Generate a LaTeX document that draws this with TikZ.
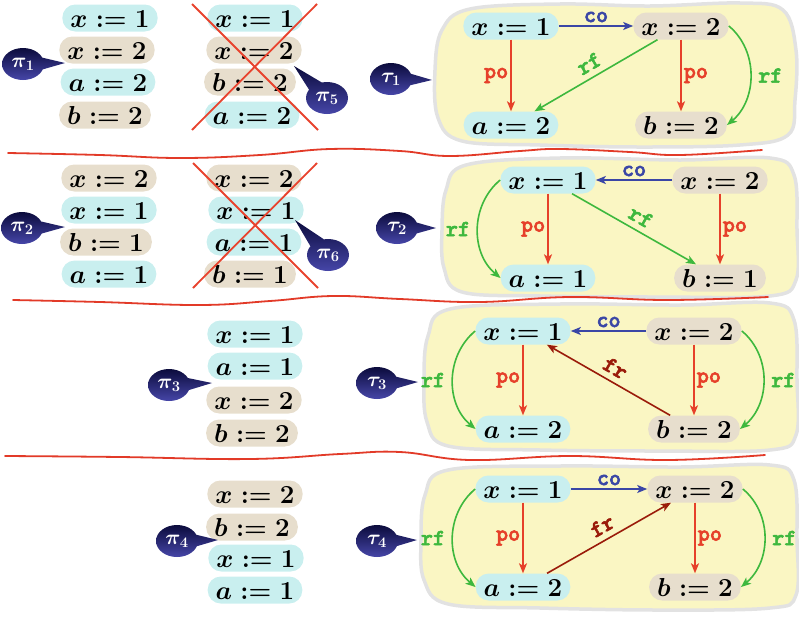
\RequirePackage{fix-cm}
\documentclass[tikz,border=0pt]{standalone}
\usetikzlibrary{arrows.meta,calc}
\font\labfnt="[lmmonolt10-bold]:embolden=2.5" at 23pt
\definecolor{cyanpill}{HTML}{C9EFEF}
\definecolor{tanpill}{HTML}{E7DECD}
\definecolor{blobfill}{HTML}{FAF6C3}
\definecolor{blobline}{HTML}{E2E2E2}
\definecolor{sepred}{HTML}{E23A28}
\definecolor{crossred}{HTML}{E8432E}
\definecolor{coblue}{HTML}{3A46A6}
\definecolor{pored}{HTML}{E6402A}
\definecolor{rfgreen}{HTML}{3EB83E}
\definecolor{frred}{HTML}{9A1B0A}
\definecolor{bubtop}{HTML}{0B0B3C}
\definecolor{bubbot}{HTML}{4646A8}
\tikzset{
  pill/.style={rounded corners=13pt, minimum height=27pt, inner xsep=8pt, inner ysep=0pt,
    text height=18pt, text depth=0pt, font=\fontsize{26}{30}\selectfont\boldmath},
  cy/.style={pill, fill=cyanpill},
  tn/.style={pill, fill=tanpill},
  lab/.style={font=\labfnt, inner sep=2pt},
  arr/.style={line width=1.6pt, -{Stealth[length=10pt,width=8pt,inset=2.5pt]}},
  blob/.style={fill=blobfill, draw=blobline, line width=3.5pt},
  sepline/.style={draw=sepred, line width=1.8pt, line cap=round},
  crossline/.style={draw=crossred, line width=1.8pt},
  bubtext/.style={text=white, font=\fontsize{21}{24}\selectfont\boldmath, inner sep=0pt},
}
\newcommand{\bubble}[6]{%
  \coordinate (#1c) at (#2,#3);
  \coordinate (#1t) at (#4,#5);
  \shade[top color=bubtop, bottom color=bubbot] (#1c) ellipse [x radius=21pt, y radius=16pt]
    ($(#1c)!11pt!-90:(#1t)$) -- (#1t) -- ($(#1c)!11pt!90:(#1t)$) -- cycle;
  \node[bubtext] (#1) at (#1c) {$#6$};
}
\begin{document}
\begin{tikzpicture}[x=1pt,y=-1pt]
\useasboundingbox (0,0) rectangle (799,616);

% blobs
\path[blob] plot[smooth cycle, tension=0.6] coordinates {(435,70) (442,30) (470,9) (560,4) (650,6) (740,3) (783,10) (796,50) (795,100) (788,135) (740,145) (640,147) (540,145) (462,141) (438,118)};
\path[blob] plot[smooth cycle, tension=0.6] coordinates {(442,230) (446,190) (466,165) (560,158) (680,160) (770,158) (794,175) (797,230) (796,280) (770,296) (660,297) (540,296) (462,292) (444,268)};
\path[blob] plot[smooth cycle, tension=0.6] coordinates {(424,380) (428,336) (450,309) (560,304) (680,305) (770,303) (794,320) (797,380) (796,435) (770,450) (660,451) (540,450) (448,446) (427,422)};
\path[blob] plot[smooth cycle, tension=0.6] coordinates {(421,540) (425,495) (448,470) (560,466) (680,467) (770,465) (794,480) (797,540) (796,595) (770,608) (660,610) (540,608) (448,604) (424,580)};

% separators
\draw[sepline] plot[smooth, tension=0.7] coordinates {(8,153) (100,155) (180,158) (260,155) (330,149) (400,151) (450,156) (520,151) (560,149) (630,152) (680,155) (762,150)};
\draw[sepline] plot[smooth, tension=0.7] coordinates {(13,300) (100,302) (200,305) (270,301) (333,296) (400,299) (480,302) (570,297) (667,300) (768,297)};
\draw[sepline] plot[smooth, tension=0.7] coordinates {(5,456) (120,457) (250,459) (340,454) (400,452) (470,460) (570,456) (667,460) (765,455)};

% panel 1 lists
\node[cy] (p1a) at (110,18) {$x:=1$};
\node[tn] (p1b) at (107,50) {$x:=2$};
\node[cy] (p1c) at (108,82) {$a:=2$};
\node[tn] (p1d) at (105,115) {$b:=2$};
\node[cy] (p5a) at (255,18) {$x:=1$};
\node[tn] (p5b) at (254,50) {$x:=2$};
\node[tn] (p5c) at (250,82) {$b:=2$};
\node[cy] (p5d) at (252,115) {$a:=2$};
\coordinate (k1a) at (192,4); \coordinate (k1b) at (318,130);
\coordinate (k1c) at (317,4); \coordinate (k1d) at (192,130);
\draw[crossline] (k1a) -- (k1b);
\draw[crossline] (k1c) -- (k1d);

% panel 2 lists
\node[tn] (p2a) at (109,178) {$x:=2$};
\node[cy] (p2b) at (109,210) {$x:=1$};
\node[tn] (p2c) at (106,242) {$b:=1$};
\node[cy] (p2d) at (109,274) {$a:=1$};
\node[tn] (p6a) at (254,178) {$x:=2$};
\node[cy] (p6b) at (256,210) {$x:=1$};
\node[cy] (p6c) at (254,242) {$a:=1$};
\node[tn] (p6d) at (250,274) {$b:=1$};
\coordinate (k2a) at (193,163); \coordinate (k2b) at (318,288);
\coordinate (k2c) at (317,163); \coordinate (k2d) at (193,288);
\draw[crossline] (k2a) -- (k2b);
\draw[crossline] (k2c) -- (k2d);

% panel 3 list
\node[cy] (p3a) at (255,334) {$x:=1$};
\node[cy] (p3b) at (255,366) {$a:=1$};
\node[tn] (p3c) at (254,400) {$x:=2$};
\node[tn] (p3d) at (252,433) {$b:=2$};

% panel 4 list
\node[tn] (p4a) at (255,494) {$x:=2$};
\node[tn] (p4b) at (252,527) {$b:=2$};
\node[cy] (p4c) at (256,558) {$x:=1$};
\node[cy] (p4d) at (255,590) {$a:=1$};

% bubbles
\bubble{b1}{23}{64}{65}{63}{\pi_1}
\bubble{b2}{22}{228}{65}{227}{\pi_2}
\bubble{b5}{327}{98}{294}{66}{\pi_5}
\bubble{b6}{328}{255}{295}{220}{\pi_6}
\bubble{b3}{169}{385}{212}{383}{\pi_3}
\bubble{b4}{177}{541}{218}{540}{\pi_4}
\bubble{bt1}{391}{79}{432}{80}{\tau_1}
\bubble{bt2}{397}{228}{436}{228}{\tau_2}
\bubble{bt3}{377}{383}{418}{382}{\tau_3}
\bubble{bt4}{377}{541}{417}{540}{\tau_4}

% tau1
\node[cy] (t1x1) at (511,26) {$x:=1$};
\node[tn] (t1x2) at (681,26) {$x:=2$};
\node[cy] (t1a) at (511,125) {$a:=2$};
\node[tn] (t1b) at (681,125) {$b:=2$};
\draw[arr, coblue] (t1x1) -- node[lab, above=1pt] {co} (t1x2);
\draw[arr, pored] (t1x1) -- node[lab, left] {po} (t1a);
\draw[arr, pored] (t1x2) -- node[lab, right] {po} (t1b);
\draw[arr, rfgreen] (t1x2) -- node[lab, sloped, above=4pt] {rf} (t1a);
\draw[arr, rfgreen] (t1x2.east) .. controls +(30,25) and +(30,-25) .. node[lab, right=5pt] {rf} (t1b.east);

% tau2
\node[cy] (t2x1) at (548,180) {$x:=1$};
\node[tn] (t2x2) at (720,180) {$x:=2$};
\node[cy] (t2a) at (548,278) {$a:=1$};
\node[tn] (t2b) at (720,278) {$b:=1$};
\draw[arr, coblue] (t2x2) -- node[lab, above=1pt] {co} (t2x1);
\draw[arr, pored] (t2x1) -- node[lab, left] {po} (t2a);
\draw[arr, pored] (t2x2) -- node[lab, right] {po} (t2b);
\draw[arr, rfgreen] (t2x1) -- node[lab, sloped, above=4pt] {rf} (t2b);
\draw[arr, rfgreen] (t2x1.west) .. controls +(-30,25) and +(-30,-25) .. node[lab, left=5pt] {rf} (t2a.west);

% tau3
\node[cy] (t3x1) at (523,331) {$x:=1$};
\node[tn] (t3x2) at (694,331) {$x:=2$};
\node[cy] (t3a) at (523,429) {$a:=2$};
\node[tn] (t3b) at (694,429) {$b:=2$};
\draw[arr, coblue] (t3x2) -- node[lab, above=1pt] {co} (t3x1);
\draw[arr, pored] (t3x1) -- node[lab, left] {po} (t3a);
\draw[arr, pored] (t3x2) -- node[lab, right] {po} (t3b);
\draw[arr, frred] (t3b) -- node[lab, sloped, above=4pt] {fr} (t3x1);
\draw[arr, rfgreen] (t3x1.west) .. controls +(-30,25) and +(-30,-25) .. node[lab, left=5pt] {rf} (t3a.west);
\draw[arr, rfgreen] (t3x2.east) .. controls +(30,25) and +(30,-25) .. node[lab, right=5pt] {rf} (t3b.east);

% tau4
\node[cy] (t4x1) at (523,489) {$x:=1$};
\node[tn] (t4x2) at (695,489) {$x:=2$};
\node[cy] (t4a) at (523,587) {$a:=2$};
\node[tn] (t4b) at (695,587) {$b:=2$};
\draw[arr, coblue] (t4x1) -- node[lab, above=1pt] {co} (t4x2);
\draw[arr, pored] (t4x1) -- node[lab, left] {po} (t4a);
\draw[arr, pored] (t4x2) -- node[lab, right] {po} (t4b);
\draw[arr, frred] (t4a) -- node[lab, sloped, above=4pt] {fr} (t4x2);
\draw[arr, rfgreen] (t4x1.west) .. controls +(-30,25) and +(-30,-25) .. node[lab, left=5pt] {rf} (t4a.west);
\draw[arr, rfgreen] (t4x2.east) .. controls +(30,25) and +(30,-25) .. node[lab, right=5pt] {rf} (t4b.east);
\end{tikzpicture}
\end{document}
